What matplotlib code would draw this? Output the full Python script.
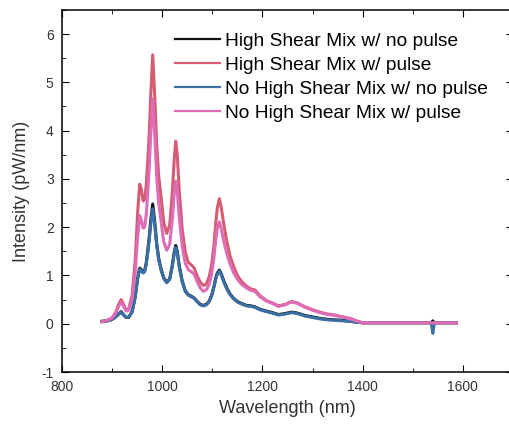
import matplotlib
matplotlib.use("Agg")
import matplotlib.pyplot as plt
from matplotlib.ticker import MultipleLocator

plt.rcParams['font.family'] = ['Liberation Sans', 'DejaVu Sans']
plt.rcParams['axes.unicode_minus'] = False

# wavelength grid (nm)
wavelength = [880, 890, 900, 908, 913, 918, 923, 928, 933, 940,
              946, 951, 955, 958, 962, 965, 968, 971, 974, 977,
              981, 985, 989, 993, 998, 1003, 1009, 1015, 1020, 1024,
              1027, 1030, 1034, 1040, 1046, 1052, 1058, 1064, 1070, 1076,
              1082, 1088, 1094, 1099, 1103, 1107, 1110, 1114, 1118, 1123,
              1129, 1135, 1142, 1150, 1158, 1168, 1177, 1185, 1195, 1208,
              1220, 1232, 1245, 1258, 1270, 1285, 1300, 1315, 1330, 1345,
              1360, 1375, 1390, 1400, 1450, 1500, 1530, 1537, 1540, 1543,
              1550, 1587]

hsm_no_pulse = [0.05, 0.06, 0.09, 0.15, 0.20, 0.25, 0.18, 0.13, 0.13, 0.25,
                0.55, 0.95, 1.15, 1.12, 1.07, 1.10, 1.25, 1.50, 1.78, 2.12,
                2.48, 2.12, 1.66, 1.35, 1.12, 0.95, 0.86, 0.93, 1.20, 1.48,
                1.62, 1.50, 1.20, 0.88, 0.68, 0.60, 0.57, 0.53, 0.46, 0.40,
                0.38, 0.40, 0.47, 0.60, 0.76, 0.95, 1.05, 1.11, 1.03, 0.88,
                0.74, 0.62, 0.53, 0.46, 0.42, 0.38, 0.37, 0.35, 0.30, 0.26,
                0.23, 0.19, 0.21, 0.24, 0.22, 0.17, 0.14, 0.11, 0.09, 0.08,
                0.07, 0.05, 0.03, 0.02, 0.02, 0.02, 0.02, 0.02, 0.06, 0.02,
                0.02, 0.02]

hsm_pulse = [0.04, 0.07, 0.12, 0.25, 0.40, 0.50, 0.40, 0.27, 0.30, 0.60,
             1.30, 2.30, 2.89, 2.80, 2.54, 2.58, 2.85, 3.35, 3.90, 4.70,
             5.57, 4.74, 3.71, 3.05, 2.60, 2.10, 1.87, 2.05, 2.70, 3.40,
             3.78, 3.50, 2.75, 1.95, 1.48, 1.27, 1.22, 1.15, 0.98, 0.86,
             0.79, 0.82, 0.98, 1.25, 1.60, 2.10, 2.40, 2.59, 2.40, 2.05,
             1.70, 1.42, 1.20, 1.00, 0.88, 0.78, 0.72, 0.70, 0.58, 0.48,
             0.43, 0.37, 0.40, 0.46, 0.43, 0.35, 0.29, 0.24, 0.20, 0.18,
             0.14, 0.11, 0.05, 0.02, 0.02, 0.02, 0.02, 0.02, 0.00, 0.02,
             0.02, 0.02]

nohsm_no_pulse = [0.05, 0.06, 0.09, 0.15, 0.20, 0.24, 0.18, 0.13, 0.13, 0.25,
                  0.55, 0.93, 1.13, 1.10, 1.05, 1.08, 1.22, 1.45, 1.72, 2.05,
                  2.38, 2.05, 1.62, 1.32, 1.10, 0.94, 0.85, 0.92, 1.18, 1.45,
                  1.58, 1.47, 1.18, 0.87, 0.67, 0.59, 0.56, 0.52, 0.45, 0.39,
                  0.37, 0.39, 0.46, 0.59, 0.75, 0.93, 1.03, 1.09, 1.01, 0.86,
                  0.72, 0.61, 0.52, 0.45, 0.41, 0.37, 0.36, 0.34, 0.29, 0.25,
                  0.22, 0.18, 0.20, 0.23, 0.21, 0.16, 0.13, 0.10, 0.08, 0.07,
                  0.06, 0.05, 0.03, 0.02, 0.02, 0.02, 0.02, 0.02, -0.20, 0.02,
                  0.02, 0.02]

nohsm_pulse = [0.04, 0.07, 0.12, 0.23, 0.36, 0.45, 0.36, 0.26, 0.28, 0.52,
               1.05, 1.80, 2.24, 2.15, 1.98, 2.00, 2.25, 2.70, 3.20, 3.90,
               4.66, 3.95, 3.05, 2.50, 2.10, 1.70, 1.52, 1.65, 2.15, 2.70,
               2.95, 2.75, 2.20, 1.60, 1.25, 1.12, 1.08, 1.02, 0.87, 0.74,
               0.67, 0.70, 0.82, 1.05, 1.35, 1.75, 1.98, 2.11, 1.96, 1.70,
               1.45, 1.25, 1.07, 0.92, 0.82, 0.74, 0.69, 0.67, 0.56, 0.47,
               0.42, 0.36, 0.39, 0.45, 0.42, 0.34, 0.28, 0.23, 0.19, 0.17,
               0.14, 0.10, 0.05, 0.02, 0.02, 0.02, 0.02, 0.02, 0.01, 0.02,
               0.02, 0.02]

labels = ["High Shear Mix w/ no pulse", "High Shear Mix w/ pulse",
          "No High Shear Mix w/ no pulse", "No High Shear Mix w/ pulse"]
colors = ["#111111", "#d65c72", "#3a6fa5", "#de6cb6"]

fig = plt.figure(figsize=(5.09, 4.25), dpi=100)
ax = fig.add_axes([0.1218, 0.1247, 0.886, 0.852])

series = [hsm_no_pulse, hsm_pulse, nohsm_no_pulse, nohsm_pulse]
for vals, lab, col in zip(series, labels, colors):
    ax.plot(wavelength, vals, color=col, lw=2.2, label=lab)

ax.set_xlim(800, 1700)
ax.set_ylim(-1, 6.5)
ax.xaxis.set_minor_locator(MultipleLocator(100))
ax.yaxis.set_minor_locator(MultipleLocator(0.5))
ax.set_xticks([800, 1000, 1200, 1400, 1600])
ax.set_yticks([-1, 0, 1, 2, 3, 4, 5, 6])
ax.tick_params(which='both', direction='in', top=True, right=True,
               labelsize=10, labelcolor='#333333', pad=6)
ax.tick_params(which='major', length=5)
ax.tick_params(which='minor', length=3)
for sp in ax.spines.values():
    sp.set_linewidth(1.1)

ax.set_xlabel("Wavelength (nm)", fontsize=13, color='#333333', labelpad=4)
ax.set_ylabel("Intensity (pW/nm)", fontsize=13, color='#333333', labelpad=8)

leg = ax.legend(loc='upper left', bbox_to_anchor=(0.234, 0.958), frameon=False,
                fontsize=13.8, handlelength=2.35, handletextpad=0.27,
                labelspacing=0.34, borderaxespad=0)
for line in leg.get_lines():
    line.set_linewidth(1.6)

fig.savefig("out.png", dpi=100)
